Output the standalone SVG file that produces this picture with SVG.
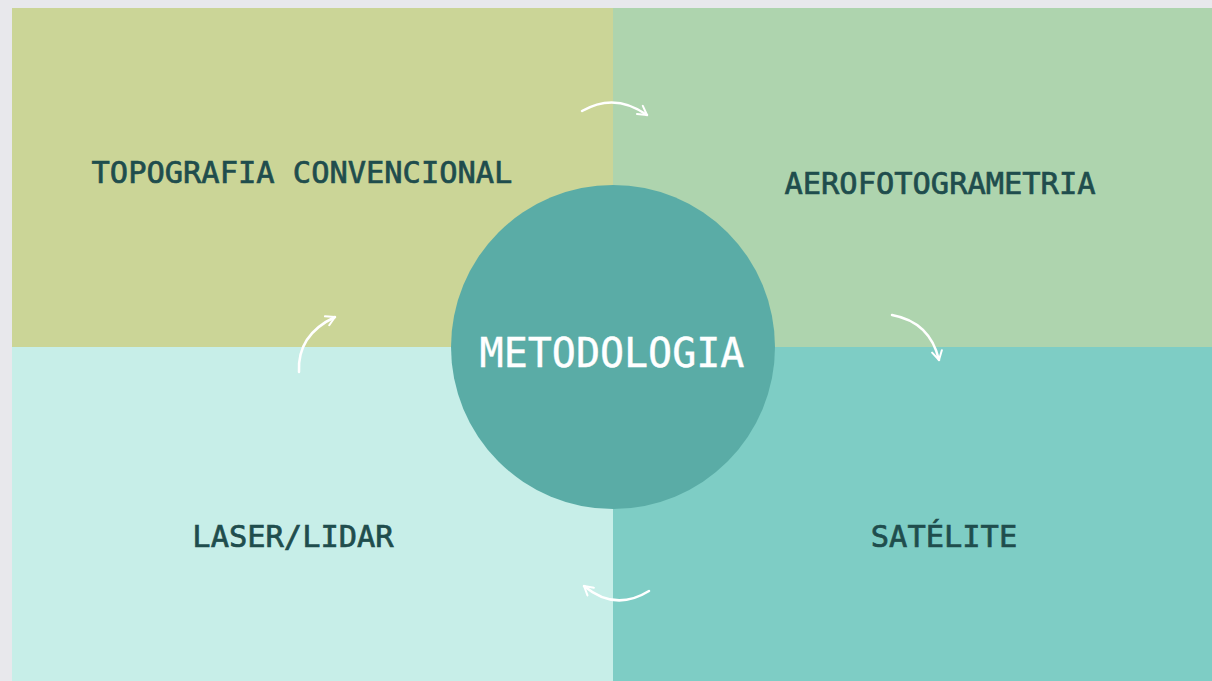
<svg xmlns="http://www.w3.org/2000/svg" width="1212" height="681" viewBox="0 0 1212 681">
<defs>
<style>
.lbl{font-family:"DejaVu Sans Mono","Liberation Mono",monospace;font-size:30.4px;fill:#1f4d4d;stroke:#1f4d4d;stroke-width:0.7;text-anchor:middle}
.ctr{font-family:"DejaVu Sans Mono","Liberation Mono",monospace;font-size:40px;fill:#ffffff;stroke:#ffffff;stroke-width:0.4;text-anchor:middle}
.arc{fill:none;stroke:#ffffff;stroke-width:2.5;stroke-linecap:round}
</style>
<marker id="ah" viewBox="0 0 10 10" refX="8" refY="5" markerWidth="5" markerHeight="5" orient="auto" markerUnits="strokeWidth">
<path d="M1,1 L8,5 L1,9" fill="none" stroke="#ffffff" stroke-width="1.6" stroke-linecap="round" stroke-linejoin="round"/>
</marker>
</defs>
<rect x="0" y="0" width="1212" height="681" fill="#e8e8ec"/>
<g id="topografia">
<rect x="12" y="8" width="601" height="339" fill="#cbd597"/>
<text class="lbl" x="302" y="183">TOPOGRAFIA CONVENCIONAL</text>
</g>
<g id="aerofotogrametria">
<rect x="613" y="8" width="599" height="339" fill="#aed4ae"/>
<text class="lbl" x="940" y="194">AEROFOTOGRAMETRIA</text>
</g>
<g id="laser">
<rect x="12" y="347" width="601" height="334" fill="#c7eee8"/>
<text class="lbl" x="293" y="547">LASER/LIDAR</text>
</g>
<g id="satelite">
<rect x="613" y="347" width="599" height="334" fill="#7ecdc5"/>
<text class="lbl" x="944" y="547">SATÉLITE</text>
</g>
<g id="connectors">
<path class="arc" d="M582,111 Q615,92 647,115" marker-end="url(#ah)"/>
<path class="arc" d="M892,315 Q930,322 939,360" marker-end="url(#ah)"/>
<path class="arc" d="M649,591 Q615,612 584,586" marker-end="url(#ah)"/>
<path class="arc" d="M299,372 Q297,335 335,317" marker-end="url(#ah)"/>
</g>
<g id="metodologia">
<circle cx="613" cy="347" r="162" fill="#5aaca6"/>
<text class="ctr" x="612" y="367">METODOLOGIA</text>
</g>
</svg>
